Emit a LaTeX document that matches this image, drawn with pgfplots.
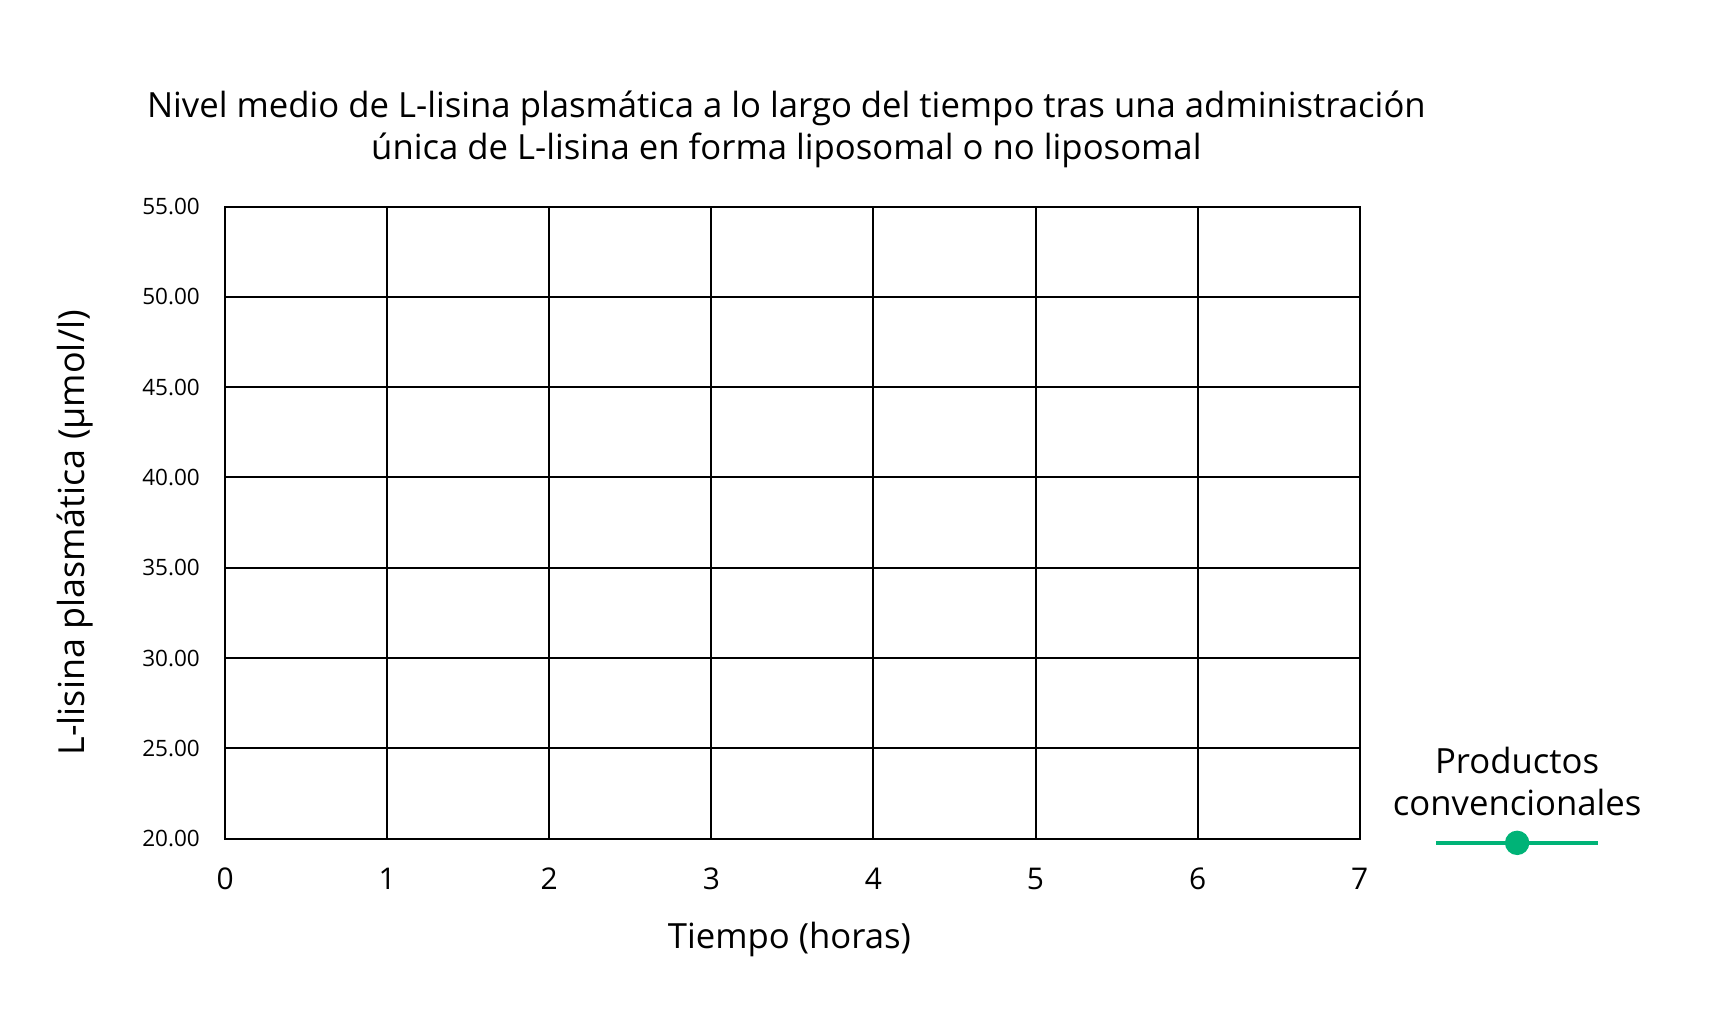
\documentclass[border=0pt]{standalone}
\usepackage{fontspec}
\setmainfont{Open Sans}
\usepackage{pgfplots}
\pgfplotsset{compat=1.18}

\definecolor{conv}{RGB}{0,179,119}
\newcommand\bigfont{\fontsize{17.4}{21}\selectfont}
\newlength\legw

\begin{document}
\settowidth\legw{\bigfont convencionales}
\begin{tikzpicture}
\useasboundingbox (-110.3pt,-93.9pt) rectangle (749.2pt,420.6pt);
\begin{axis}[
    at={(0,0)}, anchor=south west,
    width=569pt, height=317pt, scale only axis,
    xmin=0, xmax=7, ymin=20, ymax=55,
    xtick={0,1,...,7}, ytick={20,25,...,55},
    major tick length=0pt,
    grid=major,
    grid style={black, line width=1pt},
    axis line style={black, line width=1pt},
    /pgf/number format/assume math mode=true,
    yticklabel={\pgfmathprintnumber[fixed,fixed zerofill,precision=2]{\tick}},
    xticklabel style={anchor=center, yshift=-20pt, inner sep=0pt,
        font=\fontsize{15}{18}\selectfont},
    yticklabel style={anchor=east, xshift=-12.5pt, inner sep=0pt,
        font=\fontsize{11.3}{13}\selectfont},
    title={Nivel medio de L-lisina plasmática a lo largo del tiempo tras una administración\\única de L-lisina en forma liposomal o no liposomal},
    title style={at={(axis description cs:0.4947,1.0416)}, anchor=south,
        inner sep=0pt, align=center, font=\bigfont},
    xlabel={Tiempo (horas)},
    xlabel style={at={(axis description cs:0.4974,-0.1745)}, anchor=base,
        inner sep=0pt, font=\bigfont},
    ylabel={L-lisina plasmática (µmol/l)},
    ylabel style={at={(axis description cs:-0.1236,0.484)}, anchor=base,
        inner sep=0pt, font=\fontsize{18}{21}\selectfont},
    legend image code/.code={
        \draw[overlay, mark repeat=2, mark phase=2, #1]
            plot coordinates {(0.5\legw-40.75pt,-30pt) (0.5\legw,-30pt) (0.5\legw+40.75pt,-30pt)};
    },
    legend style={draw=none, fill=none, inner sep=0pt, column sep=0pt,
        at={(rel axis cs:1.1388,0.088)}, anchor=center,
        nodes={align=center, inner sep=0pt, font=\bigfont}},
    legend cell align=center,
]
% no data points are shown in the chart, only the legend entry
\addlegendimage{conv, line width=2.2pt, mark=*, mark size=5pt,
    mark options={fill=conv, draw=conv}}
\addlegendentry{Productos\\convencionales}
\end{axis}
\end{tikzpicture}
\end{document}
